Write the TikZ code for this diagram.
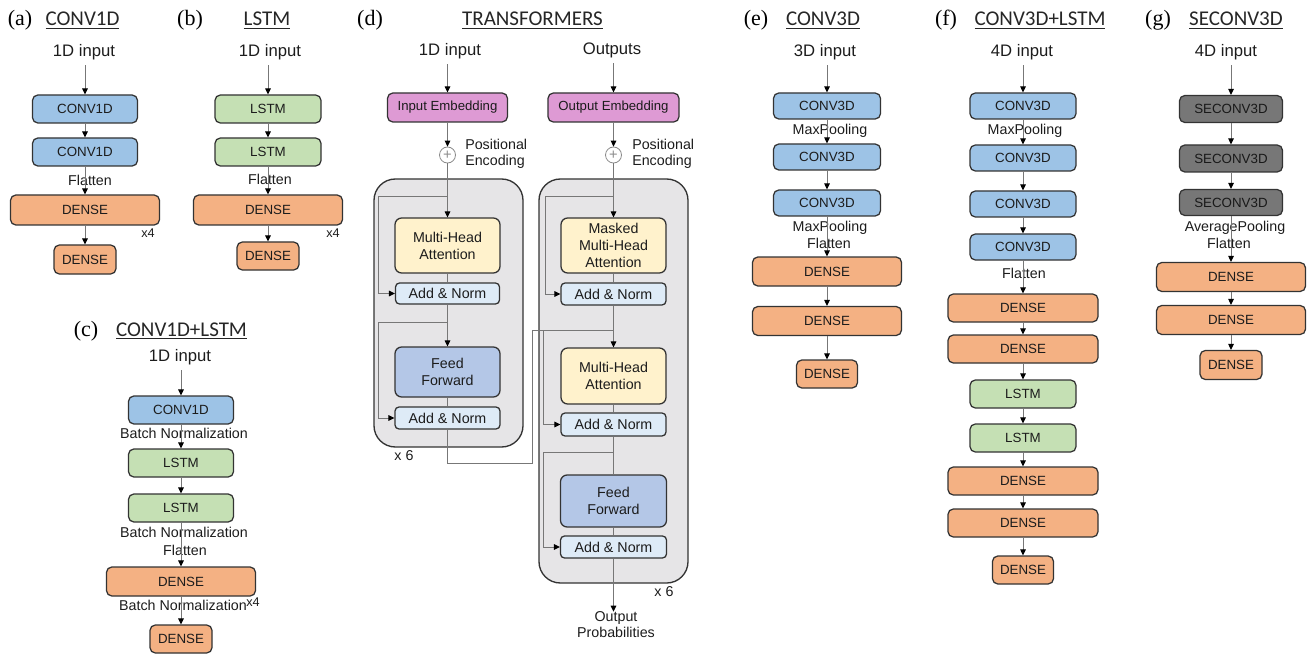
\documentclass[tikz,border=0pt]{standalone}
\usepackage{fontspec}
\setmainfont{Liberation Sans}
\newfontfamily\titlefont{Carlito}
\newfontfamily\letterfont{Liberation Serif}
\usetikzlibrary{arrows.meta,calc}
\definecolor{cblue}{HTML}{9DC3E6}
\definecolor{cgreen}{HTML}{C5E0B4}
\definecolor{corange}{HTML}{F4B183}
\definecolor{cgray}{HTML}{777777}
\definecolor{cpink}{HTML}{DE9AD4}
\definecolor{cyellow}{HTML}{FFF2CC}
\definecolor{cff}{HTML}{B4C7E7}
\definecolor{cadd}{HTML}{DEEBF7}
\definecolor{cbig}{HTML}{E6E5E7}
\definecolor{cline}{HTML}{777777}
\definecolor{cborder}{HTML}{333333}
\definecolor{ctext}{HTML}{1C1C1C}
\begin{document}
\begin{tikzpicture}[x=0.75pt,y=-0.75pt,
  sz/.style 2 args={minimum width={#1*0.75pt}, minimum height={#2*0.75pt}},
  blk/.style={draw=cborder, line width=0.95pt, rounded corners=4pt, inner sep=0pt, align=center, text=ctext, font=\fontsize{10}{12}\selectfont},
  conv/.style={blk, fill=cblue},
  lstm/.style={blk, fill=cgreen},
  dense/.style={blk, fill=corange},
  se/.style={blk, fill=cgray, text=black!90},
  emb/.style={blk, fill=cpink, font=\fontsize{9.9}{12}\selectfont},
  tbox/.style={blk, rounded corners=5pt, font=\fontsize{10.7}{12.75}\selectfont},
  att/.style={tbox, fill=cyellow},
  ffw/.style={tbox, fill=cff},
  addn/.style={tbox, fill=cadd, rounded corners=3pt},
  bigbox/.style={draw=cborder, line width=1pt, fill=cbig, rounded corners=16pt, inner sep=0pt},
  pe/.style={circle, draw=black!45, fill=white, line width=0.6pt, minimum size=12pt, inner sep=0pt, text=black!45, font=\fontsize{11}{12}\selectfont},
  lbl/.style={inner sep=0pt, text=ctext, font=\fontsize{10.7}{12}\selectfont, align=center},
  sml/.style={inner sep=0pt, text=ctext, font=\fontsize{9.5}{11}\selectfont},
  inp/.style={inner sep=0pt, text=ctext, font=\fontsize{12.5}{14}\selectfont},
  ttl/.style={inner sep=0pt, anchor=base, text=black!85, font=\titlefont\fontsize{15.75}{18}\selectfont},
  panellet/.style={inner sep=0pt, anchor=base, font=\letterfont\fontsize{16.5}{18}\selectfont},
  arr/.style={draw=cline, line width=0.75pt, -{Triangle[color=black,length=4.5pt,width=4.2pt]}},
  ln/.style={draw=cline, line width=0.75pt},
  sarr/.style={arr, shorten <=4pt}
]
\useasboundingbox (0,0) rectangle (1307,656);

% ---------------- (a) CONV1D
\node[panellet] (la) at (20,26) {(a)};
\node[ttl] (ta) at (82.5,26) {\underline{CONV1D}};
\node[inp] (ia) at (84,52) {1D input};
\node[conv, sz={105}{28}] (a1) at (85,109) {CONV1D};
\node[conv, sz={105}{28}] (a2) at (85,152) {CONV1D};
\node[lbl] (fa) at (90,180) {Flatten};
\node[dense, sz={149}{30}] (a3) at (85,210) {DENSE};
\node[sml] (xa) at (148,233) {x4};
\node[dense, sz={62}{29}] (a4) at (85,259.5) {DENSE};
\draw[sarr] (ia.south -| a1.north) -- (a1.north);
\draw[arr] (a1) -- (a2);
\draw[arr] (a2) -- (a3);
\draw[arr] (a3) -- (a4);

% ---------------- (b) LSTM
\node[panellet] (lb) at (190,26) {(b)};
\node[ttl] (tb) at (267,26) {\underline{LSTM}};
\node[inp] (ib) at (270,52) {1D input};
\node[lstm, sz={106}{28}] (b1) at (268,109) {LSTM};
\node[lstm, sz={106}{28}] (b2) at (268,152) {LSTM};
\node[lbl] (fb) at (270,179) {Flatten};
\node[dense, sz={149}{30}] (b3) at (268,210) {DENSE};
\node[sml] (xb) at (333,233) {x4};
\node[dense, sz={62}{28}] (b4) at (268,256) {DENSE};
\draw[sarr] (ib.south -| b1.north) -- (b1.north);
\draw[arr] (b1) -- (b2);
\draw[arr] (b2) -- (b3);
\draw[arr] (b3) -- (b4);

% ---------------- (c) CONV1D+LSTM
\node[panellet] (lc) at (86,336) {(c)};
\node[ttl] (tc) at (181.5,336) {\underline{CONV1D+LSTM}};
\node[inp] (ic) at (180,357) {1D input};
\node[conv, sz={105}{28}] (c1) at (181,410) {CONV1D};
\node[lbl] (bn1) at (184,433) {Batch Normalization};
\node[lstm, sz={105}{28}] (c2) at (181,463) {LSTM};
\node[lstm, sz={105}{28}] (c3) at (181,508) {LSTM};
\node[lbl] (bn2) at (184,532) {Batch Normalization};
\node[lbl] (fc) at (185,550) {Flatten};
\node[dense, sz={149}{29}] (c4) at (181,581.5) {DENSE};
\node[lbl] (bn3) at (183,605) {Batch Normalization};
\node[sml] (xc) at (253,602) {x4};
\node[dense, sz={62}{28}] (c5) at (181,639) {DENSE};
\draw[sarr] (ic.south -| c1.north) -- (c1.north);
\draw[arr] (c1) -- (c2);
\draw[arr] (c2) -- (c3);
\draw[arr] (c3) -- (c4);
\draw[arr] (c4) -- (c5);

% ---------------- (d) TRANSFORMERS
\node[panellet] (ld) at (370,26) {(d)};
\node[ttl] (td) at (532.5,26) {\underline{TRANSFORMERS}};
\node[bigbox, sz={149}{268}] (encb) at (448.5,313) {};
\node[bigbox, sz={149}{404}] (decb) at (613.5,381) {};
\node[inp] (id) at (450,51) {1D input};
\node[inp] (od) at (612,50) {Outputs};
\node[emb, sz={120}{29}] (ie) at (447.5,107.5) {Input Embedding};
\node[emb, sz={131}{29}] (oe) at (613.5,107.5) {Output Embedding};
\node[pe] (pe1) at (447.5,155) {+};
\node[pe] (pe2) at (613.5,155) {+};
\node[lbl, anchor=west, align=left] (pt1) at (465,154) {Positional\\Encoding};
\node[lbl, anchor=west, align=left] (pt2) at (632,154) {Positional\\Encoding};
% encoder
\node[att, sz={105}{55}] (mha1) at (447.5,245.5) {Multi-Head\\Attention};
\node[addn, sz={104}{21}] (an1) at (447.5,293.5) {Add \& Norm};
\node[ffw, sz={105}{50}] (ff1) at (447.5,372) {Feed\\Forward};
\node[addn, sz={105}{22}] (an2) at (447.5,418) {Add \& Norm};
\node[lbl] (x6a) at (404,456) {x 6};
% decoder
\node[att, sz={105}{55}] (mmha) at (613.5,245.5) {Masked\\Multi-Head\\Attention};
\node[addn, sz={105}{22}] (an3) at (613.5,294) {Add \& Norm};
\node[att, sz={105}{56}] (mha2) at (613.5,376) {Multi-Head\\Attention};
\node[addn, sz={105}{23}] (an4) at (613.5,424.5) {Add \& Norm};
\node[ffw, sz={106}{52}] (ff2) at (613.5,501) {Feed\\Forward};
\node[addn, sz={106}{22}] (an5) at (613.5,547) {Add \& Norm};
\node[lbl] (x6b) at (664,592) {x 6};
\node[lbl] (outp) at (616,625) {Output\\Probabilities};
% helper coordinates
\coordinate (r1a) at (447.5,197);
\coordinate (r1b) at (378,197);
\coordinate (r2a) at (447.5,322);
\coordinate (r2b) at (378,322);
\coordinate (r3a) at (613.5,197);
\coordinate (r3b) at (545,197);
\coordinate (j1) at (532,463);
\coordinate (j2) at (532,330);
\coordinate (j3) at (613.5,330);
\coordinate (j4) at (543,330);
\coordinate (r5a) at (613.5,452);
\coordinate (r5b) at (543,452);
% encoder connectors
\draw[sarr] (id.south -| ie.north) -- (ie.north);
\draw[arr] (ie) -- (pe1);
\draw[arr] (pe1) -- (mha1);
\draw[arr] (r1a) -- (r1b) |- (an1.west);
\draw[ln] (mha1) -- (an1);
\draw[arr] (an1) -- (ff1);
\draw[arr] (r2a) -- (r2b) |- (an2.west);
\draw[ln] (ff1) -- (an2);
\draw[ln] (an2.south) |- (j1) -- (j2) -- (j3);
% decoder connectors
\draw[sarr] (od.south -| oe.north) -- (oe.north);
\draw[arr] (oe) -- (pe2);
\draw[arr] (pe2) -- (mmha);
\draw[arr] (r3a) -- (r3b) |- (an3.west);
\draw[ln] (mmha) -- (an3);
\draw[ln] (an3.south) -- (j3);
\draw[arr] (j3) -- (mha2.north);
\draw[arr] (j4) |- (an4.west);
\draw[ln] (mha2) -- (an4);
\draw[ln] (an4) -- (ff2);
\draw[arr] (r5a) -- (r5b) |- (an5.west);
\draw[ln] (ff2) -- (an5);
\draw[arr] (an5.south) -- (an5.south |- outp.north);

% ---------------- (e) CONV3D
\node[panellet] (le) at (756,26) {(e)};
\node[ttl] (te) at (823,26) {\underline{CONV3D}};
\node[inp] (ine) at (825,52) {3D input};
\node[conv, sz={107}{26}] (e1) at (827,106) {CONV3D};
\node[lbl] (mpe1) at (830,131) {MaxPooling};
\node[conv, sz={107}{26}] (e2) at (827,157) {CONV3D};
\node[conv, sz={107}{26}] (e3) at (827,203) {CONV3D};
\node[lbl] (mpe2) at (830,228) {MaxPooling};
\node[lbl] (fe) at (829,243) {Flatten};
\node[dense, sz={149}{29}] (e4) at (827,271.5) {DENSE};
\node[dense, sz={149}{29}] (e5) at (827,321) {DENSE};
\node[dense, sz={61}{28}] (e6) at (827,374) {DENSE};
\draw[sarr] (ine.south -| e1.north) -- (e1.north);
\draw[arr] (e1) -- (e2);
\draw[arr] (e2) -- (e3);
\draw[arr] (e3) -- (e4);
\draw[arr] (e4) -- (e5);
\draw[arr] (e5) -- (e6);

% ---------------- (f) CONV3D+LSTM
\node[panellet] (lf) at (946,26) {(f)};
\node[ttl] (tf) at (1040,26) {\underline{CONV3D+LSTM}};
\node[inp] (inf) at (1022,52) {4D input};
\node[conv, sz={106}{26}] (f1) at (1023,106) {CONV3D};
\node[lbl] (mpf) at (1025,131) {MaxPooling};
\node[conv, sz={106}{26}] (f2) at (1023,158) {CONV3D};
\node[conv, sz={106}{26}] (f3) at (1023,204) {CONV3D};
\node[conv, sz={106}{26}] (f4) at (1023,247) {CONV3D};
\node[lbl] (ff) at (1024,273) {Flatten};
\node[dense, sz={150}{28}] (f5) at (1023,308) {DENSE};
\node[dense, sz={150}{28}] (f6) at (1023,349) {DENSE};
\node[lstm, sz={106}{28}] (f7) at (1023,394) {LSTM};
\node[lstm, sz={106}{28}] (f8) at (1023,438) {LSTM};
\node[dense, sz={150}{28}] (f9) at (1023,481) {DENSE};
\node[dense, sz={150}{28}] (f10) at (1023,523) {DENSE};
\node[dense, sz={61}{28}] (f11) at (1023,570) {DENSE};
\draw[sarr] (inf.south -| f1.north) -- (f1.north);
\foreach \p/\q in {f1/f2,f2/f3,f3/f4,f4/f5,f5/f6,f6/f7,f7/f8,f8/f9,f9/f10,f10/f11}
  \draw[arr] (\p) -- (\q);

% ---------------- (g) SECONV3D
\node[panellet] (lg) at (1158,26) {(g)};
\node[ttl] (tg) at (1236,26) {\underline{SECONV3D}};
\node[inp] (ing) at (1226,52) {4D input};
\node[se, sz={103}{27}] (g1) at (1231,109) {SECONV3D};
\node[se, sz={103}{27}] (g2) at (1231,158.5) {SECONV3D};
\node[se, sz={103}{26}] (g3) at (1231,202.5) {SECONV3D};
\node[lbl] (apg) at (1235,228) {AveragePooling};
\node[lbl] (fg) at (1229,243) {Flatten};
\node[dense, sz={149}{29}] (g4) at (1231,277) {DENSE};
\node[dense, sz={149}{29}] (g5) at (1231,320) {DENSE};
\node[dense, sz={62}{29}] (g6) at (1231,365) {DENSE};
\draw[sarr] (ing.south -| g1.north) -- (g1.north);
\draw[arr] (g1) -- (g2);
\draw[arr] (g2) -- (g3);
\draw[arr] (g3) -- (g4);
\draw[arr] (g4) -- (g5);
\draw[arr] (g5) -- (g6);
\end{tikzpicture}
\end{document}
